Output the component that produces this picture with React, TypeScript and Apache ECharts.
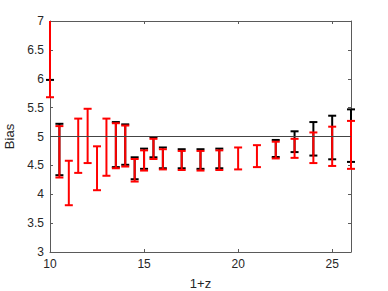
import React, { useEffect, useRef } from "react";
import * as echarts from "echarts";

// 1+z positions of the error bars
const xs = [10, 10.5, 11, 11.5, 12, 12.5, 13, 13.5, 14, 14.5, 15, 15.5, 16, 17, 18, 19, 20, 21, 22, 23, 24, 25, 26];
// red error bars (lower / upper)
const redLow = [5.68, 4.29, 3.81, 4.37, 4.54, 4.07, 4.32, 4.45, 4.48, 4.22, 4.41, 4.61, 4.43, 4.42, 4.41, 4.42, 4.43, 4.47, 4.62, 4.63, 4.54, 4.49, 4.44];
const redHigh = [7.4, 5.18, 4.58, 5.31, 5.48, 4.83, 5.31, 5.23, 5.19, 4.61, 4.76, 4.96, 4.78, 4.75, 4.75, 4.76, 4.81, 4.85, 4.91, 4.96, 5.07, 5.17, 5.27];
// black error bars (lower / upper)
const blackLow = [5.98, 4.33, null, null, null, null, null, 4.47, 4.51, 4.26, 4.44, 4.64, 4.45, 4.45, 4.44, 4.45, null, null, 4.645, 4.73, 4.67, 4.605, 4.56];
const blackHigh = [7.4, 5.22, null, null, null, null, null, 5.25, 5.21, 4.64, 4.79, 4.99, 4.81, 4.78, 4.78, 4.79, null, null, 4.94, 5.09, 5.25, 5.36, 5.47];
// reference line
const refX = [10, 26];
const refY = [5, 5];
const yTicks = { min: 3, max: 7, interval: 0.5 };
const xTicks = { min: 10, max: 26, interval: 5 };

const FONT = "'Liberation Sans', Arial, sans-serif";
const AXIS_COLOR = "#5a5a5a";
const TEXT_COLOR = "#262626";

function makeRender(color: string) {
  return (params: any, api: any) => {
    const x = api.value(0);
    const lo = api.value(1);
    const hi = api.value(2);
    const cs = params.coordSys;
    const pLo = api.coord([x, lo]);
    const pHi = api.coord([x, hi]);
    const top = cs.y;
    const bot = cs.y + cs.height;
    const yHi = Math.max(pHi[1], top);
    const yLo = Math.min(pLo[1], bot);
    const hw = 4;
    const style = { stroke: color, lineWidth: 2 };
    const children: any[] = [
      { type: "line", shape: { x1: pLo[0], y1: yLo, x2: pLo[0], y2: yHi }, style },
    ];
    if (pHi[1] >= top - 0.5) {
      children.push({ type: "line", shape: { x1: pHi[0] - hw, y1: pHi[1], x2: pHi[0] + hw, y2: pHi[1] }, style });
    }
    if (pLo[1] <= bot + 0.5) {
      children.push({ type: "line", shape: { x1: pLo[0] - hw, y1: pLo[1], x2: pLo[0] + hw, y2: pLo[1] }, style });
    }
    return { type: "group", children };
  };
}

export default function App() {
  const ref = useRef<HTMLDivElement>(null);
  useEffect(() => {
    if (!ref.current) return;
    const chart = echarts.init(ref.current, null, { renderer: "svg" });
    const redData = xs.map((x, i) => [x, redLow[i], redHigh[i]]);
    const blackData = xs
      .map((x, i) => [x, blackLow[i], blackHigh[i]])
      .filter((d) => d[1] != null && d[2] != null);
    const axisLine = { show: true, lineStyle: { color: AXIS_COLOR, width: 1 } };
    const axisTick = { show: true, inside: true, length: 3, lineStyle: { color: AXIS_COLOR, width: 1 } };
    chart.setOption({
      animation: false,
      backgroundColor: "#ffffff",
      grid: { left: 50, top: 21, right: 37, bottom: 39, containLabel: false, outerBoundsMode: "none" },
      xAxis: [
        {
          type: "value",
          ...xTicks,
          name: "1+z",
          nameLocation: "middle",
          nameGap: 25,
          nameTextStyle: { color: TEXT_COLOR, fontFamily: FONT, fontSize: 13 },
          axisLine,
          axisTick,
          splitLine: { show: false },
          axisLabel: { color: TEXT_COLOR, fontFamily: FONT, fontSize: 12, margin: 6, showMaxLabel: false },
        },
        {
          type: "value",
          position: "top",
          ...xTicks,
          axisLine,
          axisTick,
          splitLine: { show: false },
          axisLabel: { show: false },
        },
      ],
      yAxis: [
        {
          type: "value",
          ...yTicks,
          name: "Bias",
          nameLocation: "middle",
          nameGap: 28,
          nameTextStyle: { color: TEXT_COLOR, fontFamily: FONT, fontSize: 13 },
          axisLine,
          axisTick,
          splitLine: { show: false },
          axisLabel: { color: TEXT_COLOR, fontFamily: FONT, fontSize: 12, margin: 6 },
        },
        {
          type: "value",
          position: "right",
          ...yTicks,
          axisLine,
          axisTick,
          splitLine: { show: false },
          axisLabel: { show: false },
        },
      ],
      series: [
        {
          type: "line",
          data: refX.map((x, i) => [x, refY[i]]),
          showSymbol: false,
          lineStyle: { color: "#444444", width: 1 },
          silent: true,
        },
        {
          type: "custom",
          renderItem: makeRender("#000000"),
          data: blackData,
          encode: { x: 0, y: [1, 2] },
          clip: false,
        },
        {
          type: "custom",
          renderItem: makeRender("#ff0000"),
          data: redData,
          encode: { x: 0, y: [1, 2] },
          clip: false,
        },
      ],
    });
    return () => chart.dispose();
  }, []);
  return (
    <div
      ref={ref}
      style={{ position: "fixed", left: 0, top: 0, width: 388, height: 291, background: "#fff" }}
    />
  );
}
